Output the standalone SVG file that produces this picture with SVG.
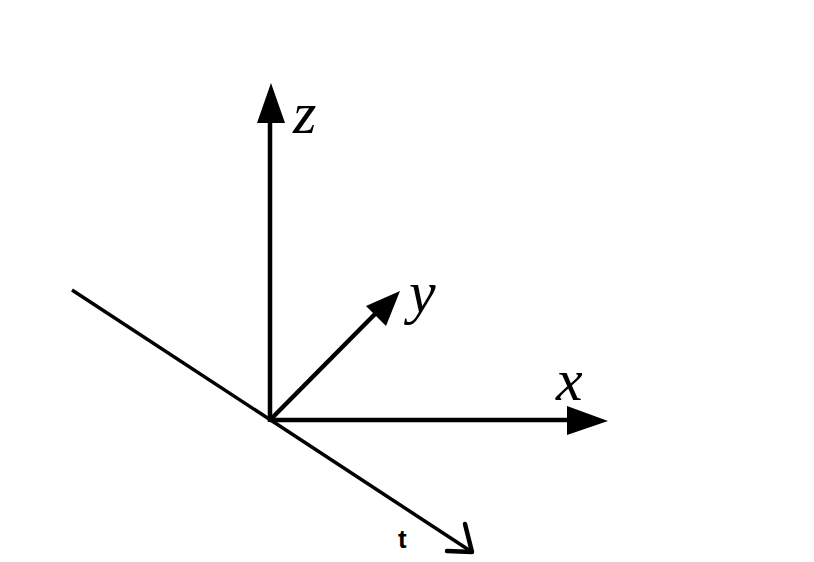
<svg xmlns="http://www.w3.org/2000/svg" width="814" height="562" viewBox="0 0 814 562">
<defs>
<style>
.ax{stroke:#000;stroke-width:4.5;fill:none}
.lbl{font-family:"Liberation Serif","DejaVu Serif",serif;font-style:italic;font-size:60px;fill:#000}
.head{fill:#000}
.tl{font-family:"Liberation Sans",Arial,sans-serif;font-weight:bold;font-size:26px;fill:#000}
</style>
</defs>
<rect width="814" height="562" fill="#fff"/>
<g id="connectors">
<line class="ax" x1="270" y1="422" x2="270" y2="118"/>
<polygon class="head" points="271,83 257,123 285,123"/>
<line class="ax" x1="270" y1="420" x2="575" y2="420"/>
<polygon class="head" points="608,421 567,406 567,435"/>
<line class="ax" x1="270" y1="420" x2="380" y2="309"/>
<polygon class="head" points="400,291 386,326 366,306"/>
<line x1="72" y1="290" x2="472" y2="552" stroke="#000" stroke-width="3.5"/>
<polyline points="465,524 472,552 447,551" stroke="#000" stroke-width="4.5" fill="none" stroke-linecap="round" stroke-linejoin="round"/>
</g>
<g id="labels">
<text class="lbl" x="293" y="133">z</text>
<text class="lbl" x="409" y="312">y</text>
<text class="lbl" x="556" y="400">x</text>
<text class="tl" x="398" y="548">t</text>
</g>
</svg>
